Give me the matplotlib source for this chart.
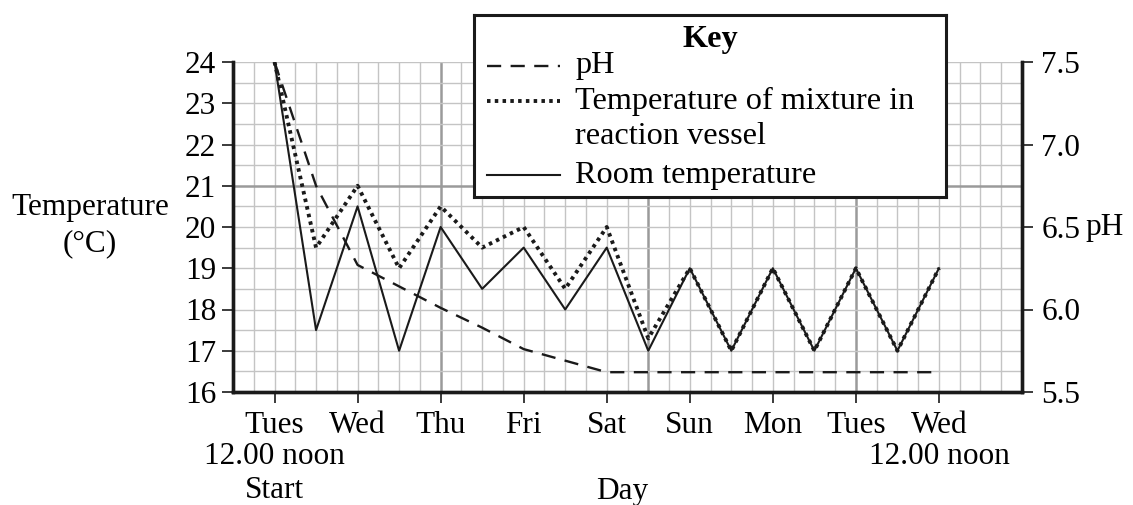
import matplotlib
matplotlib.use("Agg")
import matplotlib.pyplot as plt
import matplotlib.transforms as mtransforms
import numpy as np

plt.rcParams["font.family"] = ["Liberation Serif", "DejaVu Serif"]

# data
day_labels = ["Tues", "Wed", "Thu", "Fri", "Sat", "Sun", "Mon", "Tues", "Wed"]
day_pos = [0, 1, 2, 3, 4, 5, 6, 7, 8]

time = [0, 0.5, 1, 1.5, 2, 2.5, 3, 3.5, 4, 4.5, 5, 5.5, 6, 6.5, 7, 7.5, 8]
room_temp = [24, 17.5, 20.5, 17, 20, 18.5, 19.5, 18, 19.5, 17, 19, 17, 19, 17, 19, 17, 19]
mixture_temp = [24, 19.5, 21, 19, 20.5, 19.5, 20, 18.5, 20, 17.3, 19, 17, 19, 17, 19, 17, 19]

ph_time = [0, 0.5, 1, 1.5, 2, 2.5, 3, 3.5, 4, 8]
ph = [7.5, 6.75, 6.27, 6.14, 6.01, 5.89, 5.76, 5.69, 5.62, 5.62]

temp_ticks = [16, 17, 18, 19, 20, 21, 22, 23, 24]
ph_ticks = [5.5, 6.0, 6.5, 7.0, 7.5]

W, H = 1133, 505
FS = 22.5
KFS = 23.2

fig = plt.figure(figsize=(W / 100, H / 100), dpi=100)
ax = fig.add_axes([233 / W, 1 - 392 / H, (1022 - 233) / W, (392 - 62) / H])

x0, x1 = -0.5, 9.0
y0, y1 = 16, 24
ax.set_xlim(x0, x1)
ax.set_ylim(y0, y1)

# graph paper grid
for gx in np.arange(x0, x1 + 0.01, 0.25):
    major = abs(((gx - x0) / 2.5) - round((gx - x0) / 2.5)) < 1e-6
    ax.axvline(gx, color="#9a9a9a" if major else "#c4c4c4",
               lw=1.8 if major else 1.0, zorder=0)
for gy in np.arange(y0, y1 + 0.01, 0.5):
    major = abs(((gy - y0) / 5) - round((gy - y0) / 5)) < 1e-6
    ax.axhline(gy, color="#9a9a9a" if major else "#c4c4c4",
               lw=1.8 if major else 1.0, zorder=0)

ax.plot(time, room_temp, color="#1a1a1a", lw=1.5, zorder=3)
ax.plot(time, mixture_temp, color="#1a1a1a", lw=2.8, linestyle=(0, (0.9, 1.1)), zorder=3)

ax2 = ax.twinx()
ax2.set_ylim(5.5, 7.5)
ax2.plot(ph_time, ph, color="#1a1a1a", lw=1.7, linestyle=(0, (6, 4)), zorder=3)

for a in (ax, ax2):
    for s in a.spines.values():
        s.set_linewidth(2.4)
        s.set_color("#1a1a1a")
    a.spines["top"].set_visible(False)

ax.set_xticks(day_pos)
ax.set_xticklabels(day_labels, fontsize=FS)
ax.set_yticks(temp_ticks)
ax.set_yticklabels([str(v) for v in temp_ticks], fontsize=FS)
ax.tick_params(axis="both", length=8, width=1.2, color="#1a1a1a", pad=4)
ax.tick_params(axis="x", pad=6)
ax2.set_yticks(ph_ticks)
ax2.set_yticklabels([f"{v:.1f}" for v in ph_ticks], fontsize=FS)
ax2.tick_params(axis="y", length=8, width=1.2, color="#1a1a1a", pad=6)

# axis labels placed like the printed figure
fig.text(90 / W, 1 - 208 / H, "Temperature", fontsize=FS, ha="center", va="center")
fig.text(90 / W, 1 - 244 / H, "(°C)", fontsize=FS, ha="center", va="center")
fig.text(1085 / W, 1 - 227 / H, "pH", fontsize=FS, ha="left", va="center")

bt = mtransforms.blended_transform_factory(ax.transData, fig.transFigure)
ax.text(day_pos[0], 1 - 457 / H, "12.00 noon", transform=bt, fontsize=FS, ha="center", va="center")
ax.text(day_pos[0], 1 - 491 / H, "Start", transform=bt, fontsize=FS, ha="center", va="center")
ax.text(day_pos[-1], 1 - 457 / H, "12.00 noon", transform=bt, fontsize=FS, ha="center", va="center")
fig.text(622 / W, 1 - 491 / H, "Day", fontsize=FS, ha="center", va="center")

# key box drawn on top of the grid
kl, kr, kt, kb = 474, 946, 15, 197
kax = fig.add_axes([kl / W, 1 - kb / H, (kr - kl) / W, (kb - kt) / H])
kax.set_xlim(0, kr - kl)
kax.set_ylim(kb - kt, 0)
kax.set_xticks([])
kax.set_yticks([])
kax.set_facecolor("white")
for s in kax.spines.values():
    s.set_linewidth(2.2)
    s.set_color("#1a1a1a")

kax.text(236, 25, "Key", fontsize=KFS, fontweight="bold", ha="center", va="center")
hx = [13, 86]
kax.plot(hx, [51, 51], color="#1a1a1a", lw=1.7, linestyle=(0, (6, 4)))
kax.plot(hx, [86, 86], color="#1a1a1a", lw=2.8, linestyle=(0, (0.9, 1.1)))
kax.plot(hx, [160, 160], color="#1a1a1a", lw=1.5)
kax.text(101, 51, "pH", fontsize=KFS, ha="left", va="center")
kax.text(101, 86, "Temperature of mixture in", fontsize=KFS, ha="left", va="center")
kax.text(101, 121, "reaction vessel", fontsize=KFS, ha="left", va="center")
kax.text(101, 160, "Room temperature", fontsize=KFS, ha="left", va="center")

fig.savefig("out.png", dpi=100)
